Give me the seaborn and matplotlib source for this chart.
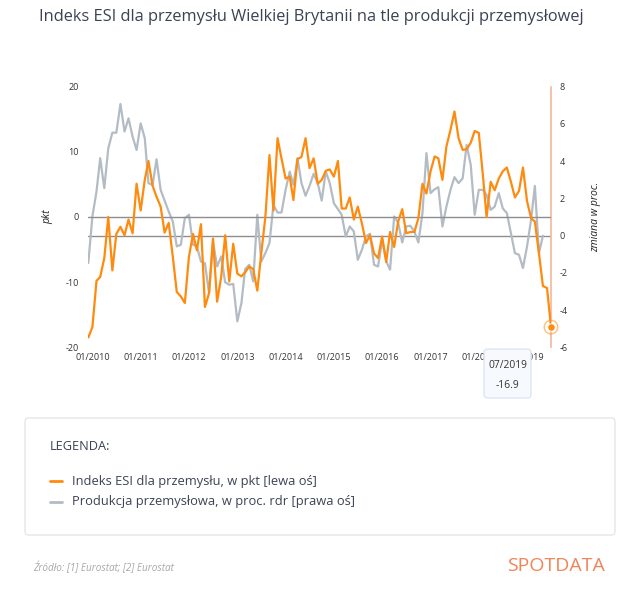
import matplotlib
matplotlib.use("Agg")
import matplotlib.pyplot as plt
from matplotlib.patches import FancyBboxPatch
import numpy as np
import pandas as pd
import seaborn as sns

# monthly values, 12/2009 .. 07/2019
esi = [
    -18.5, -16.9, -9.8, -9.2, -6.3, 0.0, -8.2, -2.6, -1.5, -2.8, -0.4, -2.5,
    5.1, 1.0, 5.7, 8.6, 4.8, 3.1, 1.6, -2.4, -0.9, -6.1, -11.5, -12.2,
    -13.2, -6.1, -2.6, -5.1, -1.1, -13.8, -11.7, -3.3, -13.0, -9.2, -2.8, -9.9,
    -4.1, -8.7, -9.1, -8.5, -7.6, -8.0, -11.3, -5.6, 0.0, 9.5, 1.0, 12.1,
    9.0, 5.9, 6.2, 2.6, 8.9, 9.2, 12.1, 7.5, 9.0, 5.1, 5.7, 7.1,
    7.3, 6.2, 8.6, 1.3, 1.3, 3.0, -0.4, 1.6, -1.0, -4.0, -2.8, -5.6,
    -6.3, -3.0, -6.9, -2.3, -4.6, -0.7, 1.2, -2.5, -2.3, -2.3, -0.2, 5.1,
    3.6, 7.0, 9.3, 9.0, 5.7, 10.8, 13.4, 16.2, 12.1, 10.3, 10.4, 11.4,
    13.2, 12.9, 6.4, 0.0, 5.4, 4.1, 5.9, 7.0, 7.6, 5.4, 3.0, 4.0,
    7.6, 2.4, -0.2, -0.7, -5.6, -10.6, -10.9, -16.9,
]
# industrial production y/y, 12/2009 .. 05/2019
prod = [
    -1.47, 1.03, 2.37, 4.16, 2.55, 4.69, 5.53, 5.53, 7.07, 5.59, 6.3, 5.32,
    4.6, 6.03, 5.23, 2.82, 2.72, 4.1, 2.46, 1.88, 1.29, 0.76, -0.58, -0.49,
    0.94, 1.12, -0.49, -0.58, -1.39, -1.48, -3.09, -0.32, -1.66, -1.12, -2.51, -2.64,
    -2.59, -4.61, -3.62, -1.80, -1.57, -2.46, 1.12, -1.39, -0.94, -0.40, 1.65, 1.24,
    1.24, 2.46, 3.44, 2.73, 4.16, 2.82, 2.14, 2.67, 3.32, 2.82, 1.88, 3.44,
    2.82, 1.74, 1.42, 1.12, -0.05, 0.49, 0.22, -1.30, -0.76, -0.05, 0.10, -1.57,
    -1.66, -0.23, -1.39, -1.83, 1.03, 0.70, -0.37, 0.49, 0.53, 0.22, -0.37, 1.21,
    4.43, 2.28, 2.49, 2.60, 0.49, 1.56, 2.46, 3.14, 2.82, 3.08, 4.87, 3.80,
    1.12, 2.46, 2.46, 2.19, 1.38, 1.56, 2.28, 1.47, 1.21, 0.13, -0.94, -1.03,
    -1.74, -0.58, 0.89, 2.67, -0.94, -0.01,
]
years = list(range(2010, 2020))
left_ticks = [-20, -10, 0, 10, 20]
right_ticks = [-6, -4, -2, 0, 2, 4, 6, 8]

ORANGE = "#ff8a0d"
GREY = "#b3bcc4"
TXT = "#3b4252"

sns.set_theme(style="white")
plt.rcParams["font.family"] = ["Open Sans", "DejaVu Sans"]

df_esi = pd.DataFrame({
    "data": pd.date_range("2009-12-01", periods=len(esi), freq="MS"),
    "esi": esi,
})
df_prod = pd.DataFrame({
    "data": pd.date_range("2009-12-01", periods=len(prod), freq="MS"),
    "prod": prod,
})

W, H = 640, 594
fig = plt.figure(figsize=(6.4, 5.94), dpi=100)
fig.patch.set_facecolor("white")

x0, x1, y_top, y_bot = 88.3, 551, 86.7, 347.3
ax = fig.add_axes([x0 / W, 1 - y_bot / H, (x1 - x0) / W, (y_bot - y_top) / H])
ax2 = ax.twinx()

ax.axhline(0, color="#8e8e8e", lw=1.0, zorder=1)
ax2.axhline(0, color="#8e8e8e", lw=1.0, zorder=1)

sns.lineplot(data=df_prod, x="data", y="prod", ax=ax2, color=GREY,
             linewidth=1.6, zorder=3)
sns.lineplot(data=df_esi, x="data", y="esi", ax=ax, color=ORANGE,
             linewidth=1.6, zorder=4)
# ax (orange) must sit above ax2 (grey)
ax.set_zorder(ax2.get_zorder() + 1)
ax.patch.set_visible(False)

last = df_esi.iloc[-1]
ax.scatter([last["data"]], [last["esi"]], s=95, facecolor="none",
           edgecolor=ORANGE, linewidth=1.0, alpha=0.55, clip_on=False, zorder=6)
ax.scatter([last["data"]], [last["esi"]], s=28, color=ORANGE,
           edgecolor="white", linewidth=0.6, clip_on=False, zorder=7)

ax.set_xlim(df_esi["data"].iloc[0], df_esi["data"].iloc[-1])
ax.set_ylim(-20, 20)
ax2.set_ylim(-6, 8)

ax.set_yticks(left_ticks)
ax.set_yticklabels([str(v) for v in left_ticks])
ax2.set_yticks(right_ticks)
ax2.set_yticklabels([str(v) for v in right_ticks])
xt = [pd.Timestamp(f"{y}-01-01") for y in years]
ax.set_xticks(xt)
ax.set_xticklabels([f"01/{y}" for y in years])

ax.tick_params(axis="x", length=0, pad=4, labelsize=6.5, colors="#333333")
ax.tick_params(axis="y", length=0, pad=7, labelsize=6.5, colors="#333333")
ax2.tick_params(axis="y", length=0, pad=6, labelsize=6.5, colors="#333333")

ax.set_xlabel("")
ax.set_ylabel("pkt", fontsize=7.5, style="italic", color="#222222")
ax.yaxis.set_label_coords(-0.075, 0.5)
ax2.set_ylabel("zmiana w proc.", fontsize=7.5, style="italic",
               color="#222222", rotation=90)
ax2.yaxis.set_label_coords(1.085, 0.5)

for a in (ax, ax2):
    for s in a.spines.values():
        s.set_visible(False)
    a.grid(False)
ax2.spines["right"].set_visible(True)
ax2.spines["right"].set_color("#f2b6a0")
ax2.spines["right"].set_linewidth(1.2)

# title
fig.text(0.487, 1 - 17 / H, "Indeks ESI dla przemysłu Wielkiej Brytanii na tle produkcji przemysłowej",
         ha="center", va="center", fontsize=11.8, color=TXT)

# tooltip
tip = FancyBboxPatch((484 / W, 1 - 398 / H), 47 / W, 49 / H,
                     boxstyle="round,pad=0,rounding_size=0.006",
                     transform=fig.transFigure, facecolor="#f6f9fd",
                     edgecolor="#d9e5f3", linewidth=0.9, zorder=10)
fig.patches.append(tip)
fig.text(507.5 / W, 1 - 365 / H, "07/2019", ha="center", va="center",
         fontsize=7.4, color="#333333", zorder=11)
fig.text(507.5 / W, 1 - 386 / H, "-16.9", ha="center", va="center",
         fontsize=7.4, color="#333333", zorder=11)

# legend panel
box = FancyBboxPatch((25 / W, 1 - 535 / H), 590 / W, 117 / H,
                     boxstyle="round,pad=0,rounding_size=0.006",
                     transform=fig.transFigure, facecolor="white",
                     edgecolor="#e6e6e6", linewidth=1.0, zorder=2)
fig.patches.append(box)
fig.text(50 / W, 1 - 447 / H, "LEGENDA:", ha="left", va="center",
         fontsize=9.2, color=TXT, zorder=3)
for ypx, col, label in [
    (481, ORANGE, "Indeks ESI dla przemysłu, w pkt [lewa oś]"),
    (502, GREY, "Produkcja przemysłowa, w proc. rdr [prawa oś]"),
]:
    yf = 1 - ypx / H
    fig.add_artist(plt.Line2D([50 / W, 62 / W], [yf, yf], color=col,
                              lw=2.0, transform=fig.transFigure, zorder=3))
    fig.text(72 / W, yf, label, ha="left", va="center", fontsize=9.3,
             color=TXT, zorder=3)

# footer
fig.text(33 / W, 1 - 568 / H, "Źródło: [1] Eurostat; [2] Eurostat",
         ha="left", va="center", fontsize=7.2, style="italic", color="#a8a8a8")
fig.text(605 / W, 1 - 566 / H, "SPOTDATA", ha="right", va="center",
         fontsize=14, color="#f0855a")

fig.savefig("out.png", dpi=100, facecolor="white")
